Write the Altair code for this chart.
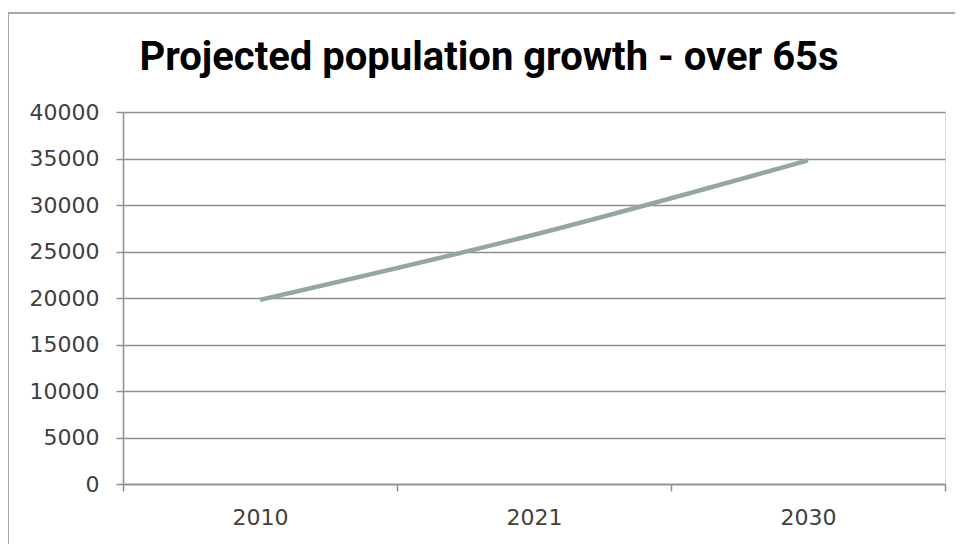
import altair as alt
import pandas as pd

years = ["2010", "2021", "2030"]
population = [19800, 26800, 34800]
y_ticks = [0, 5000, 10000, 15000, 20000, 25000, 30000, 35000, 40000]
title_text = ["Projected population growth - over 65s"]

df = pd.DataFrame({"year": years, "pop": population})
title_df = pd.DataFrame({"t": title_text})

GRID = "#8e8e8e"
LABEL = "#404040"
FONT = "DejaVu Sans"

base = alt.Chart(df)

line = base.mark_line(
    color="#94a89a", strokeWidth=4.5, interpolate="monotone", strokeCap="butt"
).encode(
    x=alt.X(
        "year:N",
        sort=years,
        scale=alt.Scale(paddingInner=0, paddingOuter=0),
        axis=alt.Axis(
            title=None,
            labelAngle=0,
            tickBand="extent",
            grid=False,
            domainColor=GRID,
            domainWidth=1.5,
            tickColor=GRID,
            tickWidth=1.5,
            tickSize=7,
            labelPadding=16,
            labelFontSize=22,
            labelColor=LABEL,
            labelFont=FONT,
        ),
    ),
    y=alt.Y(
        "pop:Q",
        scale=alt.Scale(domain=[0, 40000], nice=False),
        axis=alt.Axis(
            title=None,
            values=y_ticks,
            format="d",
            grid=True,
            gridColor=GRID,
            gridWidth=1.5,
            domainColor=GRID,
            domainWidth=1.5,
            tickColor=GRID,
            tickWidth=1.5,
            tickSize=7,
            labelPadding=17,
            labelFontSize=22,
            labelColor=LABEL,
            labelFont=FONT,
        ),
    ),
)

frame_left = base.mark_rule(color="#a6a6a6", strokeWidth=2).encode(
    x=alt.value(-115), y=alt.value(-99), y2=alt.value(440)
)
frame_top = base.mark_rule(color="#a6a6a6", strokeWidth=2).encode(
    x=alt.value(-115), x2=alt.value(850), y=alt.value(-99)
)

title = alt.Chart(title_df).mark_text(
    font="Roboto",
    fontSize=40,
    fontWeight="bold",
    color="#000000",
    align="center",
    baseline="alphabetic",
).encode(text="t:N", x=alt.value(366), y=alt.value(-42))

chart = (
    alt.layer(frame_left, frame_top, line, title)
    .properties(
        width=822,
        height=372,
        autosize=alt.AutoSizeParams(type="none"),
        padding={"left": 115, "top": 104, "right": 10, "bottom": 60},
    )
    .configure_view(stroke=None)
    .configure(background="white")
)

chart.save("out.html", embed_options={"renderer": "svg", "actions": False})
